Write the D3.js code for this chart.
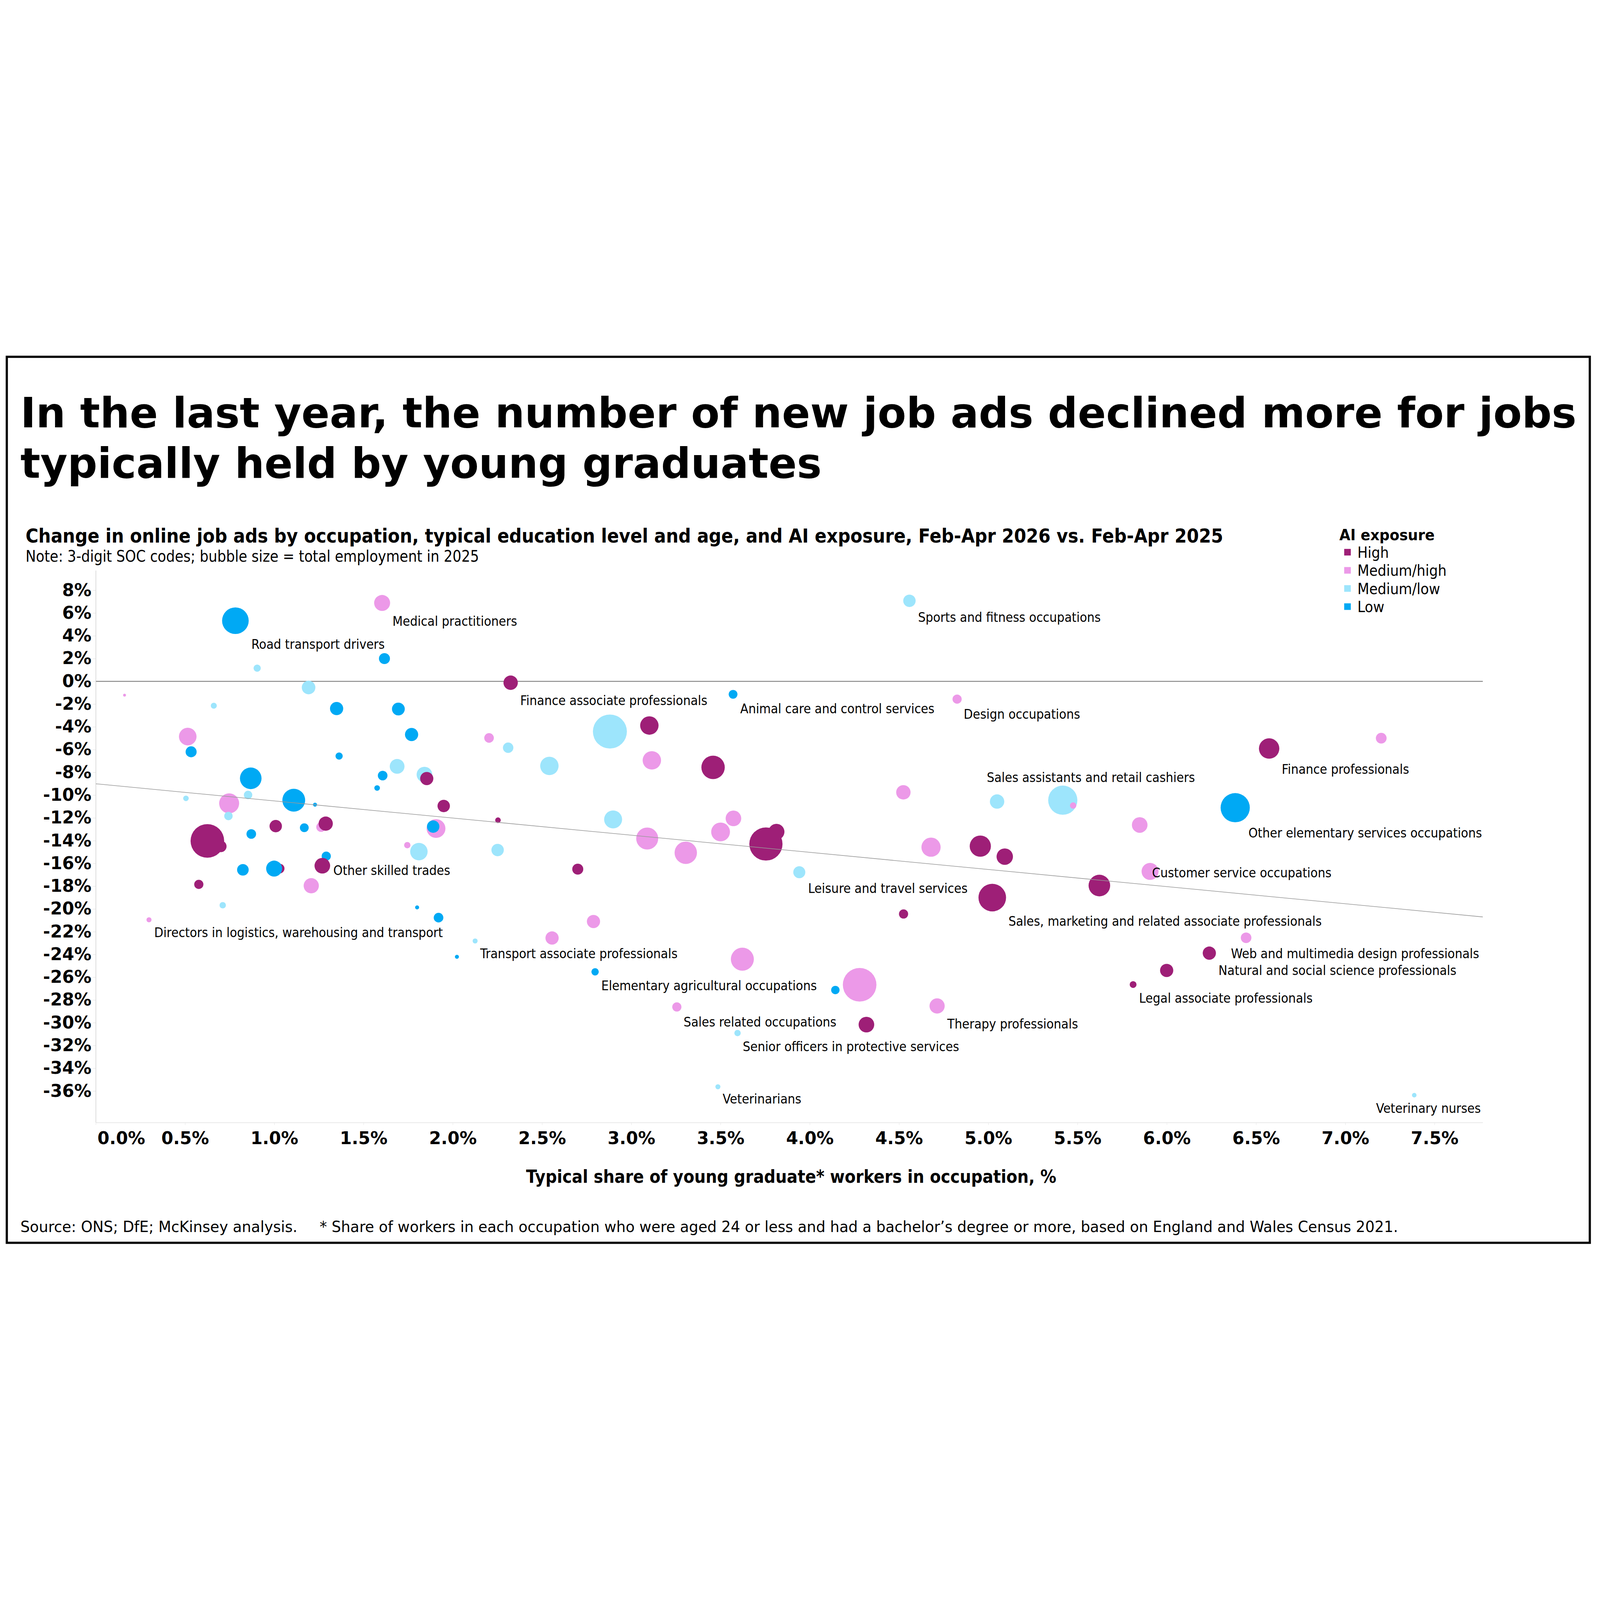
<!DOCTYPE html>
<html><head><meta charset="utf-8">
<script src="https://cdn.jsdelivr.net/npm/d3@7"></script>
<style>html,body{margin:0;padding:0;background:#fff;overflow:hidden}svg{display:block;width:100vw;height:100vh}</style>
</head><body>
<svg id="chart" viewBox="0 0 8000 4500" preserveAspectRatio="xMidYMid meet"></svg>
<script>
// ---------------- DATA ----------------
// typical share of young graduate workers in occupation, %
const youngGradShare = [
0.782,1.604,1.617,0.904,1.192,0.161,0.661,1.349,1.695,1.769,0.515,0.534,1.363,1.688,1.841,1.854,1.607,1.576,0.868,0.505,0.853,1.109,1.228,0.747,0.743,1.949,0.625,0.700,1.008,0.871,1.168,1.262,1.288,1.906,1.890,1.745,1.810,1.291,1.269,0.824,1.030,0.999,1.207,0.577,0.711,1.800,1.920,0.298,
2.324,3.570,2.880,3.101,2.203,2.310,2.541,3.115,3.458,2.253,2.898,3.572,3.500,3.089,3.305,3.754,3.813,2.251,2.700,2.788,2.556,
4.558,4.825,4.524,5.049,5.417,5.475,5.848,4.679,4.955,5.092,3.941,5.622,5.022,4.525,5.906,
6.573,7.201,6.383,6.444,6.238,5.999,5.811,7.386,
4.279,4.143,4.713,4.317,2.125,2.023,3.622,2.797,3.255,3.595,3.485
];
// change in online job ads, Feb-Apr 2026 vs Feb-Apr 2025, %
const adsChange = [
5.33,6.89,2.00,1.16,-0.54,-1.21,-2.14,-2.39,-2.43,-4.67,-4.85,-6.19,-6.56,-7.47,-8.19,-8.54,-8.28,-9.37,-8.52,-10.28,-9.98,-10.44,-10.83,-10.72,-11.83,-10.95,-14.02,-14.50,-12.72,-13.41,-12.86,-12.80,-12.50,-12.93,-12.76,-14.39,-14.96,-15.36,-16.20,-16.56,-16.45,-16.45,-17.96,-17.84,-19.67,-19.86,-20.76,-20.95,
-0.12,-1.14,-4.41,-3.88,-4.97,-5.83,-7.43,-6.94,-7.56,-12.20,-12.13,-12.04,-13.23,-13.81,-15.06,-14.29,-13.22,-14.82,-16.50,-21.10,-22.55,
7.08,-1.56,-9.75,-10.56,-10.44,-10.91,-12.62,-14.57,-14.48,-15.40,-16.77,-17.94,-19.00,-20.44,-16.70,
-5.90,-4.99,-11.10,-22.53,-23.88,-25.40,-26.64,-36.36,
-26.66,-27.12,-28.52,-30.16,-22.81,-24.20,-24.41,-25.52,-28.61,-30.90,-35.62
];
// total employment in 2025 (thousands)
const employment = [
614,221,105,45,160,7,31,151,142,151,268,105,45,189,211,151,80,27,404,27,61,450,14,346,61,133,977,116,133,80,67,80,175,306,133,35,263,73,211,116,80,221,200,73,35,14,80,22,
179,67,1000,293,80,94,293,293,474,27,280,211,306,419,434,953,221,133,105,151,151,
133,73,179,179,738,35,211,319,389,233,125,404,659,73,250,
360,100,738,97,151,151,40,18,
977,61,200,211,22,14,458,47,73,35,22
];
const exposure = [
"Low","Medium/high","Low","Medium/low","Medium/low","Medium/high","Medium/low","Low","Low","Low","Medium/high","Low","Low","Medium/low","Medium/low","High","Low","Low","Low","Medium/low","Medium/low","Low","Low","Medium/high","Medium/low","High","High","High","High","Low","Low","Medium/high","High","Medium/high","Low","Medium/high","Medium/low","Low","High","Low","High","Low","Medium/high","High","Medium/low","Low","Low","Medium/high",
"High","Low","Medium/low","High","Medium/high","Medium/low","Medium/low","Medium/high","High","High","Medium/low","Medium/high","Medium/high","Medium/high","Medium/high","High","High","Medium/low","High","Medium/high","Medium/high",
"Medium/low","Medium/high","Medium/high","Medium/low","Medium/low","Medium/high","Medium/high","Medium/high","High","High","Medium/low","High","High","High","Medium/high",
"High","Medium/high","Low","Medium/high","High","High","High","Medium/low",
"Medium/high","Low","Medium/high","High","Medium/low","Low","Medium/high","Low","Medium/high","Medium/low","Medium/low"
];
// labelled occupations: bubble index and name
const labelledIndex = [0,1,38,47,48,49,69,70,73,79,81,83,84,86,88,89,90,91,94,96,99,100,101,102];
const labelledName = [
"Road transport drivers","Medical practitioners","Other skilled trades","Directors in logistics, warehousing and transport",
"Finance associate professionals","Animal care and control services","Sports and fitness occupations","Design occupations",
"Sales assistants and retail cashiers","Leisure and travel services","Sales, marketing and related associate professionals","Customer service occupations",
"Finance professionals","Other elementary services occupations","Web and multimedia design professionals","Natural and social science professionals",
"Legal associate professionals","Veterinary nurses","Therapy professionals","Transport associate professionals",
"Elementary agricultural occupations","Sales related occupations","Senior officers in protective services","Veterinarians"
];
const exposureLevels = ["High","Medium/high","Medium/low","Low"];
const xTickValues = [0,0.5,1,1.5,2,2.5,3,3.5,4,4.5,5,5.5,6,6.5,7,7.5];
const yTickValues = [8,6,4,2,0,-2,-4,-6,-8,-10,-12,-14,-16,-18,-20,-22,-24,-26,-28,-30,-32,-34,-36];
const trendX = [0, 7.77];
const trendY = [-9.0, -20.7];

// ---------------- STYLE / LAYOUT ----------------
const exposureColors = ["#9E1F77","#EC99E8","#9DE5FC","#00A9F4"];
const FONT = "'DejaVu Sans', Verdana, sans-serif";
const labelOffsets = {
 "Road transport drivers":[80,140],
 "Medical practitioners":[52,115],
 "Other skilled trades":[55,46],
 "Directors in logistics, warehousing and transport":[26,86],
 "Finance associate professionals":[48,112],
 "Animal care and control services":[36,94],
 "Sports and fitness occupations":[43,106],
 "Design occupations":[33,99],
 "Sales assistants and retail cashiers":[-380,-91],
 "Leisure and travel services":[44,103],
 "Sales, marketing and related associate professionals":[81,140],
 "Customer service occupations":[10,30],
 "Finance professionals":[63,127],
 "Other elementary services occupations":[66,149],
 "Web and multimedia design professionals":[108,25],
 "Natural and social science professionals":[259,23],
 "Legal associate professionals":[30,90],
 "Veterinary nurses":[-191,88],
 "Therapy professionals":[51,112],
 "Transport associate professionals":[25,87],
 "Elementary agricultural occupations":[31,93],
 "Sales related occupations":[34,97],
 "Senior officers in protective services":[26,91],
 "Veterinarians":[24,84]
};

const W = 8000, H = 4500;
const svg = d3.select("#chart");
svg.append("rect").attr("width", W).attr("height", H).attr("fill", "#fff");

function squeeze(sel, k) {
  sel.each(function () {
    const L = this.getComputedTextLength();
    d3.select(this).attr("textLength", L * k).attr("lengthAdjust", "spacingAndGlyphs");
  });
}
function fit(sel, w) { return sel.attr("textLength", w).attr("lengthAdjust", "spacingAndGlyphs"); }
function fitSize(sel, w, size) {
  const L = sel.node().getComputedTextLength();
  const s = L > w ? size * w / L : size;
  sel.attr("font-size", s);
  return s;
}
function txt(str, xx, yy, size, weight) {
  return svg.append("text").attr("x", xx).attr("y", yy).attr("font-family", FONT)
    .attr("font-size", size).attr("font-weight", weight || "normal").attr("fill", "#000").text(str);
}

// frame
svg.append("rect").attr("x", 34).attr("y", 34).attr("width", 7915).attr("height", 4430)
  .attr("fill", "none").attr("stroke", "#000").attr("stroke-width", 11);

// titles
const t1 = txt("In the last year, the number of new job ads declined more for jobs", 102, 387, 230, "bold");
const titleSize = fitSize(t1, 7781, 230);
txt("typically held by young graduates", 102, 638, titleSize, "bold");
fit(txt("Change in online job ads by occupation, typical education level and age, and AI exposure, Feb-Apr 2026 vs. Feb-Apr 2025", 128, 962, 96, "bold"), 5988);
fit(txt("Note: 3-digit SOC codes; bubble size = total employment in 2025", 128, 1058, 80), 2267);

// scales
const x = d3.scaleLinear().domain([0, 7.77]).range([479, 7414]);
const y = d3.scaleLinear().domain([-38.77, 9.75]).range([3863, 1102]);
const r = d3.scaleSqrt().domain([0, 1000]).range([0, 85]);
const color = d3.scaleOrdinal().domain(exposureLevels).range(exposureColors);

// zero line
svg.append("line").attr("x1", x(0)).attr("x2", x(7.77)).attr("y1", y(0)).attr("y2", y(0))
  .attr("stroke", "#8c8c8c").attr("stroke-width", 5);

// y axis
const gy = svg.append("g").attr("transform", `translate(${x(0)},0)`)
  .call(d3.axisLeft(y).tickValues(yTickValues).tickFormat(d => d + "%").tickSize(14).tickSizeOuter(0).tickPadding(8));
gy.select(".domain").attr("stroke", "#bfbfbf").attr("stroke-width", 2);
gy.selectAll(".tick line").attr("stroke", "#e0e0e0").attr("stroke-width", 2);
gy.selectAll(".tick text").attr("font-family", FONT).attr("font-size", 86).attr("font-weight", "bold").attr("fill", "#000");

// x axis
const gx = svg.append("g").attr("transform", `translate(0,${y(-38.77)})`)
  .call(d3.axisBottom(x).tickValues(xTickValues).tickFormat(d => d.toFixed(1) + "%").tickSize(12).tickSizeOuter(0).tickPadding(35));
gx.select(".domain").attr("stroke", "#e6e6e6").attr("stroke-width", 3);
gx.selectAll(".tick line").attr("stroke", "#e6e6e6").attr("stroke-width", 2);
gx.selectAll(".tick text").attr("font-family", FONT).attr("font-size", 86).attr("font-weight", "bold").attr("fill", "#000");
gx.selectAll(".tick text").filter(d => d === 0).attr("text-anchor", "start").attr("x", 8);

// bubbles
const idx = d3.range(youngGradShare.length);
svg.append("g").selectAll("circle").data(idx).join("circle")
  .attr("cx", i => x(youngGradShare[i]))
  .attr("cy", i => y(adsChange[i]))
  .attr("r", i => r(employment[i]))
  .attr("fill", i => color(exposure[i]));

// trend line
svg.append("path").datum(d3.range(trendX.length))
  .attr("d", d3.line().x(i => x(trendX[i])).y(i => y(trendY[i])))
  .attr("fill", "none").attr("stroke", "#9a9a9a").attr("stroke-width", 3);

// labels
const lab = svg.append("g").selectAll("text").data(d3.range(labelledIndex.length)).join("text")
  .attr("x", k => x(youngGradShare[labelledIndex[k]]) + (labelOffsets[labelledName[k]] || [30, 90])[0])
  .attr("y", k => y(adsChange[labelledIndex[k]]) + (labelOffsets[labelledName[k]] || [30, 90])[1])
  .attr("font-family", FONT).attr("font-size", 66).attr("fill", "#000")
  .text(k => labelledName[k]);
squeeze(lab, 0.9);

// legend
fit(txt("AI exposure", 6697, 951, 76, "bold"), 476);
const lg = svg.append("g").selectAll("g").data(exposureLevels).join("g")
  .attr("transform", (d, i) => `translate(6721,${1011 + i * 90.7})`);
lg.append("rect").attr("x", 0).attr("y", -16.5).attr("width", 33).attr("height", 33).attr("fill", d => color(d));
const lt = lg.append("text").attr("x", 66).attr("y", 28).attr("font-family", FONT).attr("font-size", 76).attr("fill", "#000").text(d => d);
squeeze(lt, 0.9);

// axis title
fit(txt("Typical share of young graduate* workers in occupation, %", 3956, 4164, 90, "bold").attr("text-anchor", "middle"), 2651);

// footer
fit(txt("Source: ONS; DfE; McKinsey analysis.", 102, 4411, 78), 1385);
fit(txt("* Share of workers in each occupation who were aged 24 or less and had a bachelor\u2019s degree or more, based on England and Wales Census 2021.", 1598, 4411, 78), 5392);
</script>
</body></html>
